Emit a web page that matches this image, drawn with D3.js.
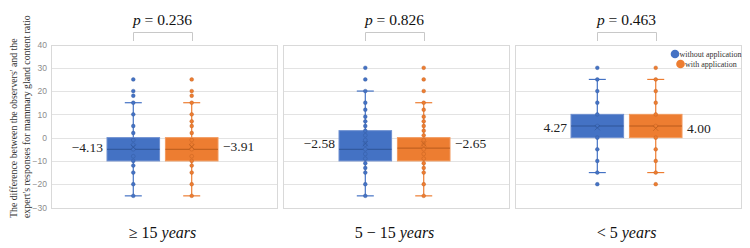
<!DOCTYPE html>
<html>
<head>
<meta charset="utf-8">
<script src="https://cdn.jsdelivr.net/npm/d3@7"></script>
<style>
  html, body { margin: 0; padding: 0; background: #fff; }
  svg { display: block; }
</style>
</head>
<body>
<svg id="chart" width="750" height="248"></svg>
<script>
// ---------------- DATA ----------------
const groupPrefix = ["≥ 15", "5 − 15", "< 5"];
const groupSuffix = "years";
const groups = ["g1", "g2", "g3"];
const pValues = ["0.236", "0.826", "0.463"];
const seriesNames = ["without application", "with application"];
const yTicks = [40, 30, 20, 10, 0, -10, -20, -30];

// without application (blue)
const blueQ1 = [-10, -10, 0];
const blueQ3 = [0, 3, 10];
const blueMedian = [-5, -5, 5];
const blueMean = [-4.13, -2.58, 4.27];
const blueWhiskerLow = [-25, -25, -15];
const blueWhiskerHigh = [15, 20, 25];
const bluePoints1 = [25, 20, 18, 15, 10, 5, 2, -1, -3, -5, -8, -10, -12, -15, -20, -25];
const bluePoints2 = [30, 25, 20, 15, 12, 9, 7, 5, 3, 1, -1, -3, -5, -7, -9, -11, -13, -15, -20, -25];
const bluePoints3 = [30, 25, 20, 15, 10, 5, 0, -5, -10, -15, -20];

// with application (orange)
const orangeQ1 = [-10, -10, 0];
const orangeQ3 = [0, 0, 10];
const orangeMedian = [-5, -4.5, 5];
const orangeMean = [-3.91, -2.65, 4.00];
const orangeWhiskerLow = [-25, -25, -15];
const orangeWhiskerHigh = [15, 15, 25];
const orangePoints1 = [25, 20, 18, 15, 10, 7, 5, 2, -1, -3, -5, -8, -10, -12, -15, -20, -25];
const orangePoints2 = [30, 25, 20, 15, 12, 9, 7, 5, 3, 1, -1, -3, -5, -7, -9, -11, -13, -15, -20, -25];
const orangePoints3 = [30, 25, 20, 15, 10, 5, 0, -5, -10, -15, -20];

// ---------------- BUILD ----------------
const colors = ["#4472C4", "#ED7D31"];
const darkColors = ["#2F5597", "#B85B1C"];
const strokeColors = ["#6E8FD0", "#F29A5E"];

const series = [
  { q1: blueQ1, q3: blueQ3, med: blueMedian, mean: blueMean, lo: blueWhiskerLow, hi: blueWhiskerHigh,
    pts: [bluePoints1, bluePoints2, bluePoints3] },
  { q1: orangeQ1, q3: orangeQ3, med: orangeMedian, mean: orangeMean, lo: orangeWhiskerLow, hi: orangeWhiskerHigh,
    pts: [orangePoints1, orangePoints2, orangePoints3] }
];

const svg = d3.select("#chart");
const serif = "'Liberation Serif', 'DejaVu Serif', serif";

const x = d3.scaleBand().domain(groups).range([51, 741]).paddingInner(0.026).paddingOuter(0);
const xs = d3.scaleBand().domain(seriesNames).range([56, 167]).paddingInner(0.1);
const y = d3.scaleLinear().domain([-30, 40]).range([207.5, 44.5]);

// Panels
groups.forEach((g, gi) => {
  const x0 = x(g), w = x.bandwidth();
  const panel = svg.append("g");
  // gridlines
  panel.selectAll("line.grid").data(yTicks).enter().append("line")
    .attr("x1", x0).attr("x2", x0 + w)
    .attr("y1", d => Math.round(y(d)) + 0.5).attr("y2", d => Math.round(y(d)) + 0.5)
    .attr("stroke", "#e3e3e3").attr("stroke-width", 1);
  // frame
  panel.append("rect")
    .attr("x", Math.round(x0) + 0.5).attr("y", Math.round(y(40)) + 0.5)
    .attr("width", Math.round(w)).attr("height", Math.round(y(-30)) - Math.round(y(40)))
    .attr("fill", "none").attr("stroke", "#d9d9d9");

  series.forEach((s, si) => {
    const bx = x0 + xs(seriesNames[si]);
    const bw = xs.bandwidth();
    const cx = bx + bw / 2;
    const gg = panel.append("g");
    // whisker line
    gg.append("line").attr("x1", cx).attr("x2", cx)
      .attr("y1", y(s.hi[gi])).attr("y2", y(s.lo[gi]))
      .attr("stroke", colors[si]).attr("stroke-width", 1.2);
    // caps
    [s.hi[gi], s.lo[gi]].forEach(v => {
      gg.append("line").attr("x1", cx - 8.5).attr("x2", cx + 8.5)
        .attr("y1", y(v)).attr("y2", y(v))
        .attr("stroke", colors[si]).attr("stroke-width", 1.2);
    });
    // box
    gg.append("rect").attr("x", bx).attr("width", bw)
      .attr("y", y(s.q3[gi])).attr("height", y(s.q1[gi]) - y(s.q3[gi]))
      .attr("fill", colors[si]).attr("stroke", strokeColors[si]).attr("stroke-width", 1);
    // median
    gg.append("line").attr("x1", bx).attr("x2", bx + bw)
      .attr("y1", y(s.med[gi])).attr("y2", y(s.med[gi]))
      .attr("stroke", darkColors[si]).attr("stroke-width", 1);
    // points
    gg.selectAll("circle").data(s.pts[gi]).enter().append("circle")
      .attr("cx", cx).attr("cy", d => y(d)).attr("r", 1.9)
      .attr("fill", colors[si]).attr("stroke", darkColors[si]).attr("stroke-opacity", 0.45).attr("stroke-width", 0.8);
    // mean marker
    const my = y(s.mean[gi]), m = 2.6;
    gg.append("path")
      .attr("d", `M${cx - m},${my - m}L${cx + m},${my + m}M${cx - m},${my + m}L${cx + m},${my - m}`)
      .attr("stroke", darkColors[si]).attr("stroke-opacity", 0.6).attr("stroke-width", 1);
    // mean label
    const fmt = v => (v < 0 ? "−" : "") + Math.abs(v).toFixed(2);
    gg.append("text")
      .attr("x", si === 0 ? bx - 4 : bx + bw + 5)
      .attr("y", my + 4.5)
      .attr("text-anchor", si === 0 ? "end" : "start")
      .attr("font-family", serif).attr("font-size", 13.5).attr("fill", "#222")
      .text(fmt(s.mean[gi]));
  });

  // p-value bracket
  const c0 = x0 + xs(seriesNames[0]) + xs.bandwidth() / 2;
  const c1 = x0 + xs(seriesNames[1]) + xs.bandwidth() / 2;
  svg.append("path")
    .attr("d", `M${Math.round(c0) + 0.5},41V${32.5}H${Math.round(c1) + 0.5}V41`)
    .attr("fill", "none").attr("stroke", "#c8c8c8").attr("stroke-width", 1);
  const pt = svg.append("text")
    .attr("x", (c0 + c1) / 2).attr("y", 25)
    .attr("text-anchor", "middle")
    .attr("font-family", serif).attr("font-size", 15.5).attr("fill", "#111");
  pt.append("tspan").attr("font-style", "italic").text("p");
  pt.append("tspan").text(" = " + pValues[gi]);

  // category label
  const ct = svg.append("text")
    .attr("x", (c0 + c1) / 2).attr("y", 238)
    .attr("text-anchor", "middle")
    .attr("font-family", serif).attr("font-size", 16).attr("fill", "#111");
  ct.append("tspan").text(groupPrefix[gi] + " ");
  ct.append("tspan").attr("font-style", "italic").text(groupSuffix);
});

// Y axis tick labels
const yAxis = d3.axisLeft(y).tickValues(yTicks).tickSize(0).tickPadding(0);
const ya = svg.append("g").attr("transform", "translate(47,0)").call(yAxis);
ya.select(".domain").remove();
ya.selectAll("text")
  .attr("font-family", "'Liberation Sans', Arial, sans-serif").attr("font-size", 8.5).attr("fill", "#8c8c8c");

// Y axis title
const titleLines = ["The difference between the observers' and the", "expert's responses for mammary gland content ratio"];
titleLines.forEach((t, i) => {
  svg.append("text")
    .attr("transform", `translate(${16.5 + i * 13},218) rotate(-90)`)
    .attr("text-anchor", "start")
    .attr("font-family", serif).attr("font-size", 9.8).attr("fill", "#333")
    .text(t);
});

// Legend
const legend = svg.append("g");
const legendPos = [[675, 54], [680.5, 64]];
seriesNames.forEach((n, i) => {
  legend.append("circle").attr("cx", legendPos[i][0]).attr("cy", legendPos[i][1]).attr("r", 4.3)
    .attr("fill", colors[i]);
  legend.append("text").attr("x", legendPos[i][0] + 4.5).attr("y", legendPos[i][1] + 3)
    .attr("font-family", serif).attr("font-size", 8).attr("fill", "#333")
    .text(n);
});
</script>
</body>
</html>
